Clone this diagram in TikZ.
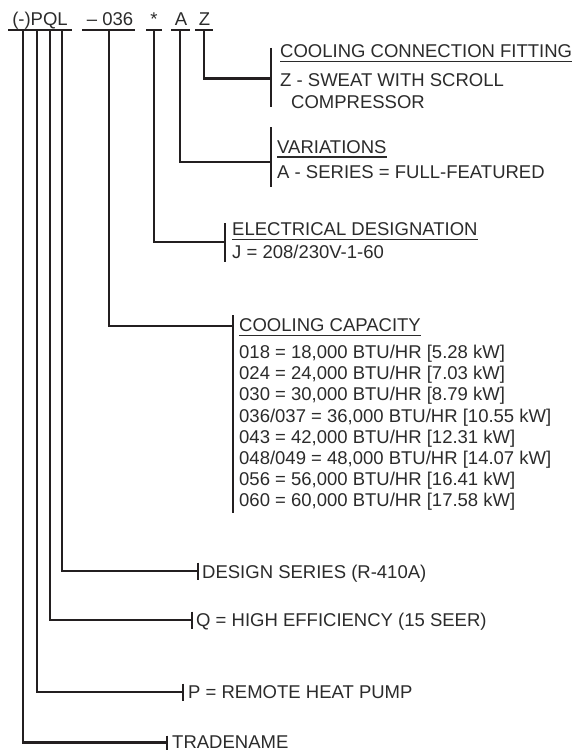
\documentclass[tikz,border=0pt]{standalone}
\usepackage{fontspec}
\setmainfont{Liberation Sans}
\usetikzlibrary{positioning}
\definecolor{cInk}{HTML}{231F20}
\definecolor{cText}{HTML}{2B2B2B}
\newcommand{\headline}[1]{\setbox0\hbox{#1}\rlap{\rule[-4.6bp]{\wd0}{1.2bp}}\box0}
\tikzset{
  lead/.style={draw=cInk, line width=2.3bp},
  tick/.style={draw=cInk, line width=2.3bp},
  txt/.style={anchor=base west, inner sep=0pt, text=cText, align=left,
              font=\fontsize{18.5bp}{21.2bp}\selectfont},
  code/.style={anchor=base, inner sep=0pt, text=cText,
               font=\fontsize{18.5bp}{21.2bp}\selectfont},
}

\begin{document}
\begin{tikzpicture}[x=1bp, y=-1bp]
  \useasboundingbox (0,0) rectangle (576,750);
  % model number
  \node[code] (trade) at (40,26) {(-)PQL};
  \node[code] (size) at (110,26) {– 036};
  \node[code] (volt) at (154,26) {*};
  \node[code] (var) at (181,26) {A};
  \node[code] (fit) at (204.5,26) {Z};
  \draw[lead] (8,30) -- (72,30);
  \draw[lead] (82,30) -- (135,30);
  \draw[lead] (146,30) -- (162,30);
  \draw[lead] (171,30) -- (190,30);
  \draw[lead] (195,30) -- (212.5,30);

  \coordinate (tName) at (22.7,30);
  \coordinate (tPump) at (36.7,30);
  \coordinate (tEff) at (50,30);
  \coordinate (tSer) at (61.7,30);
  \coordinate (tCap) at (109,30);
  \coordinate (tVolt) at (154,30);
  \coordinate (tVar) at (180,30);
  \coordinate (tFit) at (204,30);

  \coordinate (eFit) at (271,78.5);
  \coordinate (eVar) at (271,162);
  \coordinate (eVolt) at (225,242);
  \coordinate (eCap) at (233,326);
  \coordinate (eSer) at (198,571);
  \coordinate (eEff) at (192,620);
  \coordinate (ePump) at (183,692);
  \coordinate (eName) at (167,742.5);

  \draw[lead] (tFit) |- (eFit);
  \draw[lead] (tVar) |- (eVar);
  \draw[lead] (tVolt) |- (eVolt);
  \draw[lead] (tCap) |- (eCap);
  \draw[lead] (tSer) |- (eSer);
  \draw[lead] (tEff) |- (eEff);
  \draw[lead] (tPump) |- (ePump);
  \draw[lead] (tName) |- (eName);

  % end bars
  \draw[tick] (271,48) -- (271,107);
  \draw[tick] (271,127) -- (271,187);
  \draw[tick] (225,223) -- (225,262);
  \draw[tick] (233,315) -- (233,513);
  \draw[tick] (198,562.5) -- (198,579.5);
  \draw[tick] (192,611.5) -- (192,628.5);
  \draw[tick] (183,683.5) -- (183,700.5);
  \draw[tick] (167,735.5) -- (167,750);

  % descriptions (placed by the baseline of their last line)
  \node[txt] (fitTxt) at (280,108) {\headline{COOLING CONNECTION FITTING}\\[7.8bp]
    Z - SWEAT WITH SCROLL\\ \hspace*{11bp}COMPRESSOR};
  \node[txt] (varTxt) at (277,178) {\headline{VARIATIONS}\\[3.8bp]
    A - SERIES = FULL-FEATURED};
  \node[txt] (voltTxt) at (232,258.2) {\headline{ELECTRICAL DESIGNATION}\\[1.5bp]
    J = 208/230V-1-60};
  \node[txt] (capTxt) at (239,506.9) {\headline{COOLING CAPACITY}\\[5.8bp]
    018 = 18,000 BTU/HR [5.28 kW]\\
    024 = 24,000 BTU/HR [7.03 kW]\\
    030 = 30,000 BTU/HR [8.79 kW]\\
    036/037 = 36,000 BTU/HR [10.55 kW]\\
    043 = 42,000 BTU/HR [12.31 kW]\\
    048/049 = 48,000 BTU/HR [14.07 kW]\\
    056 = 56,000 BTU/HR [16.41 kW]\\
    060 = 60,000 BTU/HR [17.58 kW]};
  \node[txt] (serTxt) at (202,578) {DESIGN SERIES (R-410A)};
  \node[txt] (effTxt) at (196,626.5) {Q = HIGH EFFICIENCY (15 SEER)};
  \node[txt] (pumpTxt) at (188,698.5) {P = REMOTE HEAT PUMP};
  \node[txt] (nameTxt) at (172,748.5) {TRADENAME};
\end{tikzpicture}
\end{document}
